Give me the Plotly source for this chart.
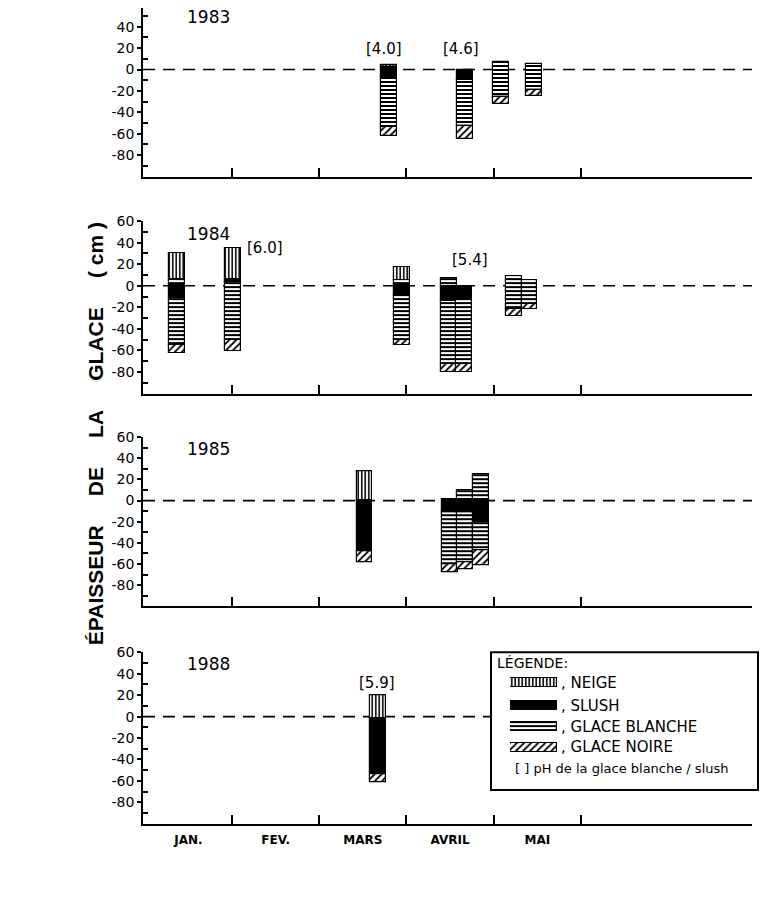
import plotly.graph_objects as go

W, H = 760, 912

# ---------------- data ----------------
MONTHS = ["JAN.", "FEV.", "MARS", "AVRIL", "MAI"]
MONTH_CENTERS = [0.5, 1.5, 2.5, 3.5, 4.5]
MONTH_BOUNDS = [1, 2, 3, 4, 5]
Y_TICKS = [-80, -60, -40, -20, 0, 20, 40, 60]
Y_TICK_TEXT = ["-80", "-60", "-40", "-20", "0", "20", "40", "60"]
Y_MINOR = [-90, -70, -50, -30, -10, 10, 30, 50]

YEARS = ["1983", "1984", "1985", "1988"]

# x = months since 1 January ; layers = (type, top cm, bottom cm)
# N = neige, S = slush, B = glace blanche, G = glace noire
x_1983 = [2.80, 3.67, 4.08, 4.46]
layers_1983 = [
    [("N", 4, 2), ("S", 2, -7), ("B", -7, -54), ("G", -54, -62)],
    [("S", 0, -10), ("B", -10, -53), ("G", -53, -65)],
    [("B", 7, -26), ("G", -26, -32)],
    [("B", 5, -19), ("G", -19, -25)],
]
ph_1983 = [("[4.0]", 2.74, 19), ("[4.6]", 3.62, 19)]

x_1984 = [0.37, 1.01, 2.95, 3.49, 3.66, 4.23, 4.41]
layers_1984 = [
    [("N", 30, 6), ("B", 6, 1), ("S", 1, -11), ("B", -11, -55), ("G", -55, -62)],
    [("N", 35, 6), ("S", 6, 3), ("B", 3, -50), ("G", -50, -61)],
    [("N", 17, 5), ("B", 5, 2), ("S", 2, -10), ("B", -10, -50), ("G", -50, -55)],
    [("B", 7, 0), ("S", 0, -14), ("B", -14, -73), ("G", -73, -80)],
    [("S", 0, -13), ("B", -13, -73), ("G", -73, -80)],
    [("B", 9, -22), ("G", -22, -28)],
    [("B", 5, -17), ("G", -17, -22)],
]
ph_1984 = [("[6.0]", 1.38, 35), ("[5.4]", 3.73, 24)]

x_1985 = [2.52, 3.50, 3.67, 3.85]
layers_1985 = [
    [("N", 28, 0), ("S", 0, -48), ("G", -48, -58)],
    [("S", 1, -11), ("B", -11, -60), ("G", -60, -68)],
    [("B", 10, 1), ("S", 1, -11), ("B", -11, -58), ("G", -58, -65)],
    [("B", 25, 1), ("S", 1, -20), ("B", -20, -47), ("G", -47, -61)],
]
ph_1985 = []

x_1988 = [2.67]
layers_1988 = [
    [("N", 20, -2), ("S", -2, -54), ("G", -54, -61)],
]
ph_1988 = [("[5.9]", 2.66, 31)]

LEGEND_LABELS = [", NEIGE", ", SLUSH", ", GLACE BLANCHE", ", GLACE NOIRE"]
LEGEND_TYPES = ["N", "S", "B", "G"]

# ---------------- styles ----------------
def pat(shape, size, solidity):
    return dict(shape=shape, size=size, solidity=solidity, fgcolor="black",
                bgcolor="white", fillmode="replace")

STYLE = {
    "N": dict(color="black", pattern=pat("|", 3.5, 0.45)),
    "S": dict(color="black"),
    "B": dict(color="black", pattern=pat("-", 4, 0.5)),
    "G": dict(color="black", pattern=pat("/", 5, 0.35)),
}
BAR_W = 0.18

def px(x):
    return x / W

def py(y):
    return 1 - y / H

panels = [
    (x_1983, layers_1983, ph_1983, (0, 170), [-100, 57.5]),
    (x_1984, layers_1984, ph_1984, (215, 389), [-100, 60]),
    (x_1985, layers_1985, ph_1985, (433, 603.5), [-100, 60]),
    (x_1988, layers_1988, ph_1988, (650, 823), [-100, 60]),
]
year_y = [9, 228, 445, 662]

fig = go.Figure()
annotations = []
shapes = []
X_DOMAIN = [px(143), px(752)]
X_RANGE = [-0.02, 6.96]

for i, (xs, layers, phs, (ytop, ybot), yr) in enumerate(panels):
    n = i + 1
    xa = "x" if n == 1 else f"x{n}"
    ya = "y" if n == 1 else f"y{n}"
    for t in ["N", "S", "B", "G"]:
        bx, by, bb = [], [], []
        for xv, lay in zip(xs, layers):
            for (lt, top, bot) in lay:
                if lt == t:
                    bx.append(xv)
                    by.append(top - bot)
                    bb.append(bot)
        if bx:
            fig.add_trace(go.Bar(
                x=bx, y=by, base=bb, width=BAR_W, xaxis=xa, yaxis=ya,
                marker=dict(**STYLE[t], line=dict(color="black", width=1.2)),
                showlegend=False, hoverinfo="skip"))
    last = (n == 4)
    fig.layout[f"xaxis{'' if n == 1 else n}"] = dict(
        domain=X_DOMAIN, range=X_RANGE, anchor=ya,
        showline=True, linecolor="black", linewidth=2,
        showgrid=False, zeroline=False,
        tickmode="array", tickvals=MONTH_CENTERS, ticktext=MONTHS,
        ticks="", showticklabels=last, ticklabelstandoff=4,
        tickfont=dict(family="DejaVu Sans", size=12, color="black", weight="bold"),
        minor=dict(tickmode="array", tickvals=MONTH_BOUNDS, ticks="inside",
                   ticklen=9, tickwidth=2, tickcolor="black"),
        fixedrange=True)
    fig.layout[f"yaxis{'' if n == 1 else n}"] = dict(
        domain=[py(ybot), py(ytop)], range=yr, anchor=xa,
        showline=True, linecolor="black", linewidth=1.5,
        showgrid=False, zeroline=False,
        tickmode="array", tickvals=Y_TICKS, ticktext=Y_TICK_TEXT,
        ticks="outside", ticklen=4, tickwidth=1.5, tickcolor="black",
        tickfont=dict(family="DejaVu Sans", size=14, color="black"),
        minor=dict(tickmode="array", tickvals=Y_MINOR, ticks="inside",
                   ticklen=5, tickwidth=1.5, tickcolor="black"),
        fixedrange=True)
    # dashed water line
    x_end = 1 if n < 4 else (491 - 143) / (752 - 143)
    shapes.append(dict(type="line", xref=f"{xa} domain", yref=ya,
                       x0=0, x1=x_end, y0=0, y1=0, layer="below",
                       line=dict(color="black", width=1.6, dash="12px,8px")))
    # year label
    annotations.append(dict(text=YEARS[i], x=px(185), y=py(year_y[i]),
                            xref="paper", yref="paper", xanchor="left",
                            yanchor="middle", showarrow=False,
                            font=dict(family="DejaVu Sans", size=17, color="black")))
    for (txt, xv, yv) in phs:
        annotations.append(dict(text=txt, x=xv, y=yv, xref=xa, yref=ya,
                                showarrow=False, xanchor="center", yanchor="middle",
                                font=dict(family="DejaVu Sans", size=15, color="black")))

# ---------------- legend ----------------
shapes.append(dict(type="rect", xref="paper", yref="paper",
                   x0=px(491), x1=px(758), y0=py(789), y1=py(650),
                   line=dict(color="black", width=2), fillcolor="white",
                   layer="below"))
row_y = [681, 704, 725, 746]
for t, ry in zip(LEGEND_TYPES, row_y):
    fig.add_trace(go.Bar(
        x=[1], y=[ry], base=[0], width=9, orientation="h",
        xaxis="x5", yaxis="y5",
        marker=dict(**STYLE[t], line=dict(color="black", width=1.2)),
        showlegend=False, hoverinfo="skip"))
fig.layout["xaxis5"] = dict(domain=[px(510), px(557)], range=[0, 1], visible=False,
                            anchor="y5", fixedrange=True)
fig.layout["yaxis5"] = dict(domain=[py(756), py(670)], range=[756, 670], visible=False,
                            anchor="x5", fixedrange=True)

annotations.append(dict(text="LÉGENDE:", x=px(495), y=py(661), xref="paper", yref="paper",
                        xanchor="left", yanchor="middle", showarrow=False,
                        font=dict(family="DejaVu Sans", size=14, color="black")))
for lab, ry in zip(LEGEND_LABELS, row_y):
    annotations.append(dict(text=lab, x=px(559), y=py(ry), xref="paper", yref="paper",
                            xanchor="left", yanchor="middle", showarrow=False,
                            font=dict(family="DejaVu Sans", size=15, color="black")))
annotations.append(dict(text="[ ] pH de la glace blanche / slush", x=px(513), y=py(767),
                        xref="paper", yref="paper", xanchor="left", yanchor="middle",
                        showarrow=False,
                        font=dict(family="DejaVu Sans", size=13, color="black")))

# y-axis title
sp = "\u00a0" * 5
ytitle = f"ÉPAISSEUR{sp}DE{sp}LA{sp}GLACE{sp}(\u00a0cm\u00a0)"
annotations.append(dict(text=ytitle, x=px(95), y=py(430), xref="paper", yref="paper",
                        textangle=-90, xanchor="center", yanchor="middle", showarrow=False,
                        font=dict(family="Liberation Sans", size=21, color="black",
                                  weight="bold")))

fig.update_layout(
    width=W, height=H, autosize=False,
    margin=dict(l=0, r=0, t=0, b=0),
    paper_bgcolor="white", plot_bgcolor="rgba(0,0,0,0)",
    barmode="overlay", bargap=0,
    shapes=shapes, annotations=annotations,
    showlegend=False,
)

fig.write_html("out.html")
